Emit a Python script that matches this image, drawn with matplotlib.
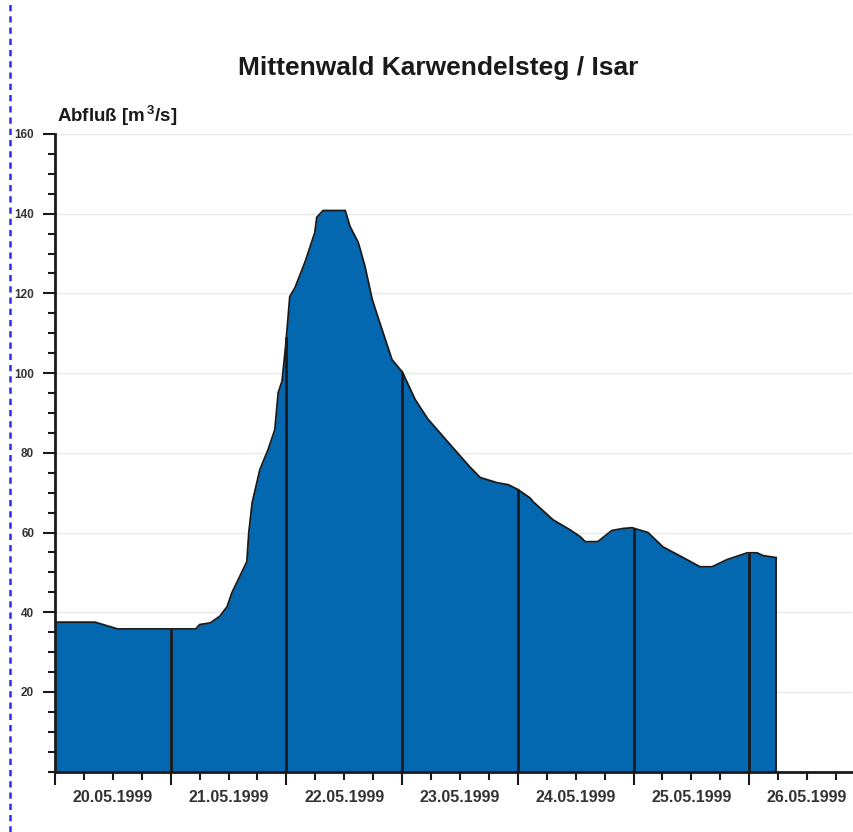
import numpy as np
import pandas as pd
import matplotlib
matplotlib.use("Agg")
import matplotlib.pyplot as plt
import matplotlib.dates as mdates
from matplotlib.lines import Line2D
from matplotlib.ticker import MultipleLocator, NullFormatter, FuncFormatter

plt.rcParams['font.family'] = ['Liberation Sans', 'DejaVu Sans']
plt.rcParams['mathtext.default'] = 'regular'

# Abfluss-Ganglinie, Stunden ab 20.05.1999 00:00
hours = [0, 8.3, 13, 24, 29.2, 30, 32.2, 34.2, 35.7, 36.7, 39.8, 40.2, 40.9,
         42.5, 44.2, 45.6, 46.3, 47.1, 47.9, 48.7, 49.8, 51.9, 53.9, 54.3,
         55.6, 60.2, 61.2, 62.9, 64.3, 65.8, 67, 69.9, 71.6, 72, 74.7, 76.3,
         77.4, 80.5, 83.4, 86.1, 88.2, 91.7, 94, 96, 98.5, 99.2, 103.3, 106.8,
         108.9, 110, 112.6, 115.5, 117.8, 119.7, 123, 126.1, 130.3, 133.8,
         136.3, 139.4, 143.6, 145.6, 146.9, 149.6]
flow = [37.5, 37.5, 35.8, 35.8, 35.8, 36.9, 37.3, 39, 41.4, 44.9, 52.7, 60,
        67.5, 75.8, 80.8, 85.8, 95.1, 98, 107.5, 119.2, 121.5, 128, 135.3,
        139.1, 140.8, 140.8, 136.8, 132.8, 126.8, 118.5, 114, 103.4, 100.9,
        100.4, 93.4, 90.4, 88.4, 84.1, 80.1, 76.4, 73.8, 72.5, 72, 70.8, 68.7,
        67.7, 63.2, 60.7, 59, 57.7, 57.7, 60.5, 61, 61.2, 60, 56.4, 53.7, 51.4,
        51.4, 53.2, 54.9, 54.9, 54.2, 53.7]

title = "Mittenwald Karwendelsteg / Isar"
ylabel = "Abfluß [m$^{\\,3}$/s]"

t0 = pd.Timestamp("1999-05-20 00:00")
times = t0 + pd.to_timedelta(hours, unit="h")
tnum = mdates.date2num(times.to_pydatetime())
days = mdates.date2num(pd.date_range("1999-05-21", "1999-05-26", freq="D").to_pydatetime())
day_vals = np.interp(days, tnum, flow)

fig = plt.figure(figsize=(8.54, 8.32), dpi=100)
ax = fig.add_axes([55 / 854, 60.4 / 832, 797 / 854, 637.6 / 832])

fill_col = "#0368b0"
ax.fill_between(tnum, 0, flow, color=fill_col, zorder=2, linewidth=0)
ax.plot(tnum, flow, color="#1a1a1a", linewidth=1.3, zorder=3)
ax.plot([tnum[-1], tnum[-1]], [0, flow[-1]], color="#1a1a1a", linewidth=1.3, zorder=3)
ax.vlines(days, 0, day_vals, color="#1a1a1a", linewidth=2, zorder=3)

x0 = mdates.date2num(t0.to_pydatetime())
ax.set_xlim(x0, x0 + 797 / 115.7)
ax.set_ylim(0, 160)

ax.xaxis.set_major_locator(mdates.DayLocator())
ax.xaxis.set_major_formatter(NullFormatter())
ax.xaxis.set_minor_locator(mdates.HourLocator(byhour=[6, 12, 18]))


def noon_label(x, pos):
    d = mdates.num2date(x)
    return d.strftime("%d.%m.%Y") if d.hour == 12 else ""


ax.xaxis.set_minor_formatter(FuncFormatter(noon_label))

ax.yaxis.set_minor_locator(MultipleLocator(5))
ax.set_yticks([20, 40, 60, 80, 100, 120, 140, 160])
ax.set_yticklabels(["20", "40", "60", "80", "100", "120", "140", "160"])

ax.tick_params(axis="x", which="major", length=9, width=1.5, color="#1a1a1a")
ax.tick_params(axis="x", which="minor", length=6, width=1.5, color="#1a1a1a",
               pad=7, labelsize=11.5, labelcolor="#333333")
for lab in ax.xaxis.get_minorticklabels():
    lab.set_fontweight("bold")
ax.tick_params(axis="y", which="major", length=9, width=1.5, color="#1a1a1a",
               pad=6, labelsize=8.5, labelcolor="#333333")
ax.tick_params(axis="y", which="minor", length=5, width=1.5, color="#1a1a1a")
for lab in ax.get_yticklabels():
    lab.set_fontweight("bold")

ax.grid(axis="y", which="major", color="#e8e8e8", linewidth=1, zorder=0)
ax.set_axisbelow(True)

for s in ["top", "right"]:
    ax.spines[s].set_visible(False)
for s in ["left", "bottom"]:
    ax.spines[s].set_linewidth(2)
    ax.spines[s].set_color("#1a1a1a")
    ax.spines[s].set_zorder(4)

fig.text(438 / 854, 1 - 68 / 832, title, ha="center", va="center",
         fontsize=19, fontweight="bold", color="#1a1a1a")
fig.text(57 / 854, 1 - 116 / 832, ylabel, ha="left", va="center",
         fontsize=13.5, fontweight="bold", color="#1a1a1a")

# blaue gestrichelte Randlinie links
fig.add_artist(Line2D([10 / 854, 10 / 854], [0, 1], color="#2a2aff",
                      linewidth=1.8, linestyle=(0, (2.5, 2))))

fig.savefig("out.png", dpi=100)
